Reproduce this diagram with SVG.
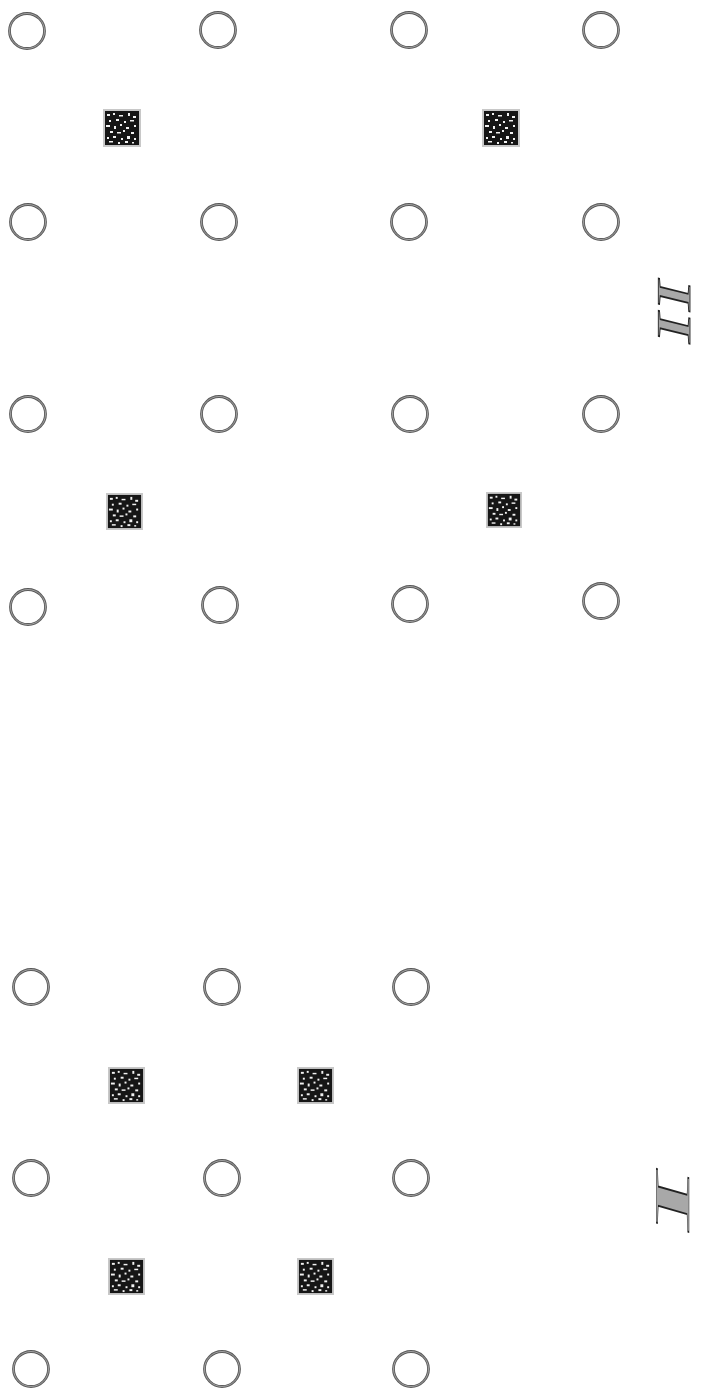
<svg xmlns="http://www.w3.org/2000/svg" xmlns:xlink="http://www.w3.org/1999/xlink" width="701" height="1390" viewBox="0 0 701 1390">
<style>
.ring{fill:none;stroke:#5a5a5a;stroke-width:2.8}
.ring2{fill:none;stroke:#b4b4b4;stroke-width:0.8}
.num{font-family:"Liberation Serif","Times New Roman",serif;fill:#a8a8a8;stroke:#222222;stroke-width:1.4}
</style>
<defs>
<symbol id="sq" viewBox="0 0 38 38">
<rect x="0" y="0" width="38" height="38" fill="#c8c8c8"/>
<rect x="2" y="2" width="34" height="34" fill="#161616"/>
<g fill="#f2f2f2">
<rect x="4" y="5" width="3" height="2"/><rect x="10" y="4" width="2" height="2"/><rect x="16" y="6" width="4" height="1.5"/><rect x="25" y="4" width="2" height="3"/><rect x="30" y="7" width="3" height="2"/>
<rect x="6" y="11" width="2" height="2"/><rect x="13" y="10" width="3" height="2"/><rect x="21" y="12" width="2" height="2"/><rect x="27" y="11" width="4" height="1.5"/>
<rect x="3" y="16" width="4" height="2"/><rect x="11" y="17" width="2" height="3"/><rect x="17" y="15" width="2" height="2"/><rect x="23" y="18" width="3" height="2"/><rect x="31" y="16" width="2" height="2"/>
<rect x="7" y="22" width="3" height="2"/><rect x="14" y="23" width="4" height="1.5"/><rect x="20" y="21" width="2" height="2"/><rect x="28" y="23" width="3" height="2"/>
<rect x="4" y="28" width="2" height="2"/><rect x="10" y="27" width="3" height="2"/><rect x="18" y="29" width="2" height="2"/><rect x="24" y="27" width="3" height="3"/><rect x="31" y="29" width="2" height="2"/>
<rect x="6" y="32" width="4" height="1.5"/><rect x="15" y="33" width="2" height="2"/><rect x="22" y="32" width="3" height="2"/><rect x="29" y="33" width="2" height="1.5"/>
</g>
</symbol>
<symbol id="ci" viewBox="-20 -20 40 40">
<circle r="17.5" class="ring"/>
<circle r="17.5" class="ring2"/>
</symbol>
</defs>
<rect width="701" height="1390" fill="#ffffff"/>
<g id="connectors"/>
<!-- Section II: circles -->
<g id="c-II-1-1"><use xlink:href="#ci" x="7" y="11" width="40" height="40"/></g>
<g id="c-II-1-2"><use xlink:href="#ci" x="198" y="10" width="40" height="40"/></g>
<g id="c-II-1-3"><use xlink:href="#ci" x="389" y="10" width="40" height="40"/></g>
<g id="c-II-1-4"><use xlink:href="#ci" x="581" y="10" width="40" height="40"/></g>
<g id="c-II-2-1"><use xlink:href="#ci" x="8" y="202" width="40" height="40"/></g>
<g id="c-II-2-2"><use xlink:href="#ci" x="199" y="202" width="40" height="40"/></g>
<g id="c-II-2-3"><use xlink:href="#ci" x="389" y="202" width="40" height="40"/></g>
<g id="c-II-2-4"><use xlink:href="#ci" x="581" y="202" width="40" height="40"/></g>
<g id="c-II-3-1"><use xlink:href="#ci" x="8" y="394" width="40" height="40"/></g>
<g id="c-II-3-2"><use xlink:href="#ci" x="199" y="394" width="40" height="40"/></g>
<g id="c-II-3-3"><use xlink:href="#ci" x="390" y="394" width="40" height="40"/></g>
<g id="c-II-3-4"><use xlink:href="#ci" x="581" y="394" width="40" height="40"/></g>
<g id="c-II-4-1"><use xlink:href="#ci" x="8" y="587" width="40" height="40"/></g>
<g id="c-II-4-2"><use xlink:href="#ci" x="200" y="585" width="40" height="40"/></g>
<g id="c-II-4-3"><use xlink:href="#ci" x="390" y="584" width="40" height="40"/></g>
<g id="c-II-4-4"><use xlink:href="#ci" x="581" y="581" width="40" height="40"/></g>
<!-- Section II: squares -->
<g id="s-II-1"><use xlink:href="#sq" x="103" y="109" width="38" height="38"/></g>
<g id="s-II-2"><use xlink:href="#sq" x="482" y="109" width="38" height="38"/></g>
<g id="s-II-3"><use xlink:href="#sq" x="106" y="493" width="37" height="37"/></g>
<g id="s-II-4"><use xlink:href="#sq" x="486" y="492" width="36" height="36"/></g>
<!-- Section I: circles -->
<g id="c-I-1-1"><use xlink:href="#ci" x="11" y="967" width="40" height="40"/></g>
<g id="c-I-1-2"><use xlink:href="#ci" x="202" y="967" width="40" height="40"/></g>
<g id="c-I-1-3"><use xlink:href="#ci" x="391" y="967" width="40" height="40"/></g>
<g id="c-I-2-1"><use xlink:href="#ci" x="11" y="1158" width="40" height="40"/></g>
<g id="c-I-2-2"><use xlink:href="#ci" x="202" y="1158" width="40" height="40"/></g>
<g id="c-I-2-3"><use xlink:href="#ci" x="391" y="1158" width="40" height="40"/></g>
<g id="c-I-3-1"><use xlink:href="#ci" x="11" y="1349" width="40" height="40"/></g>
<g id="c-I-3-2"><use xlink:href="#ci" x="202" y="1349" width="40" height="40"/></g>
<g id="c-I-3-3"><use xlink:href="#ci" x="391" y="1349" width="40" height="40"/></g>
<!-- Section I: squares -->
<g id="s-I-1"><use xlink:href="#sq" x="108" y="1067" width="37" height="37"/></g>
<g id="s-I-2"><use xlink:href="#sq" x="297" y="1258" width="37" height="37"/></g>
<g id="s-I-3"><use xlink:href="#sq" x="108" y="1258" width="37" height="37"/></g>
<g id="s-I-4"><use xlink:href="#sq" x="297" y="1067" width="37" height="37"/></g>
<!-- Roman numeral labels -->
<g id="label-II"><text class="num" vector-effect="non-scaling-stroke" transform="translate(690,315) rotate(-90) scale(2.2,1.1) skewX(-7)" font-size="44" text-anchor="middle">II</text></g>
<g id="label-I"><text class="num" vector-effect="non-scaling-stroke" transform="translate(689,1205) rotate(-90) scale(4.1,1) skewX(-4)" font-size="50" text-anchor="middle">I</text></g>
</svg>
